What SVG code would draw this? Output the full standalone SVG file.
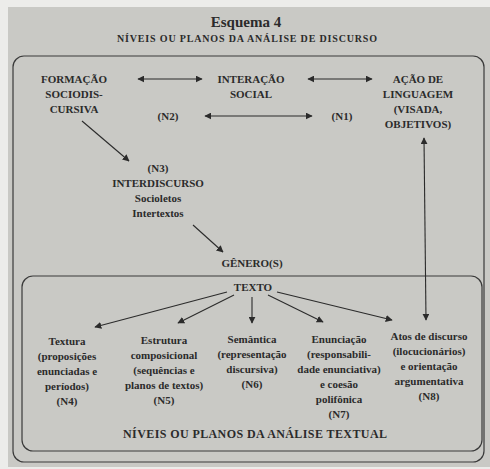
<svg xmlns="http://www.w3.org/2000/svg" width="490" height="469" viewBox="0 0 490 469">
<defs>
<marker id="ah" viewBox="0 0 10 10" refX="9" refY="5" markerWidth="7" markerHeight="7" markerUnits="userSpaceOnUse" orient="auto-start-reverse">
<path d="M0,0 L10,5 L0,10 z" fill="#2b2b2b"/>
</marker>
<style>
.t{font-family:"Liberation Serif","Times New Roman",serif;font-weight:bold;font-size:11px;fill:#2b2b2b;text-anchor:middle}
.c line{stroke:#2b2b2b;stroke-width:1.1}
.frame{fill:none;stroke:#3a3a3a;stroke-width:1.2}
</style>
</defs>
<rect width="490" height="469" fill="#ececea"/>
<rect x="8" y="7" width="482" height="460" fill="#c9c9c5"/>
<rect class="frame" x="13" y="56" width="471" height="406" rx="11"/>
<rect class="frame" x="22" y="276" width="460" height="175" rx="11"/>
<text x="246" y="27" style="font-family:'Liberation Serif',serif;font-size:15px;font-weight:600;fill:#2b2b2b;text-anchor:middle">Esquema 4</text>
<text x="247" y="42" class="t" textLength="260" style="font-size:10px">NÍVEIS OU PLANOS DA ANÁLISE DE DISCURSO</text>
<g class="c">
<line x1="138" y1="79" x2="202" y2="79" marker-start="url(#ah)" marker-end="url(#ah)"/>
<line x1="308" y1="79" x2="372" y2="79" marker-start="url(#ah)" marker-end="url(#ah)"/>
<line x1="205" y1="116" x2="312" y2="116" marker-start="url(#ah)" marker-end="url(#ah)"/>
<line x1="82" y1="121" x2="129" y2="161" marker-end="url(#ah)"/>
<line x1="424" y1="138" x2="426" y2="320" marker-start="url(#ah)" marker-end="url(#ah)"/>
<line x1="193" y1="225" x2="223" y2="252" marker-end="url(#ah)"/>
<line x1="227" y1="292" x2="95" y2="327" marker-end="url(#ah)"/>
<line x1="234" y1="295" x2="178" y2="323" marker-end="url(#ah)"/>
<line x1="252" y1="297" x2="252" y2="323" marker-end="url(#ah)"/>
<line x1="268" y1="295" x2="323" y2="322" marker-end="url(#ah)"/>
<line x1="277" y1="292" x2="392" y2="320" marker-end="url(#ah)"/>
</g>
<g id="formacao"><text class="t" x="74" y="83">FORMAÇÃO</text><text class="t" x="74" y="98">SOCIODIS-</text><text class="t" x="74" y="113">CURSIVA</text></g>
<g id="interacao"><text class="t" x="251" y="83">INTERAÇÃO</text><text class="t" x="251" y="98">SOCIAL</text></g>
<g id="acao"><text class="t" x="418" y="83">AÇÃO DE</text><text class="t" x="418" y="98">LINGUAGEM</text><text class="t" x="418" y="113">(VISADA,</text><text class="t" x="418" y="128">OBJETIVOS)</text></g>
<g id="n2"><text class="t" x="168" y="120">(N2)</text></g>
<g id="n1"><text class="t" x="342" y="120">(N1)</text></g>
<g id="interdiscurso"><text class="t" x="158" y="172">(N3)</text><text class="t" x="158" y="187">INTERDISCURSO</text><text class="t" x="158" y="202">Socioletos</text><text class="t" x="158" y="217">Intertextos</text></g>
<g id="genero"><text class="t" x="252" y="267">GÊNERO(S)</text></g>
<g id="texto"><text class="t" x="253" y="291">TEXTO</text></g>
<g id="textura"><text class="t" x="67" y="345">Textura</text><text class="t" x="67" y="360">(proposições</text><text class="t" x="67" y="375">enunciadas e</text><text class="t" x="67" y="390">períodos)</text><text class="t" x="67" y="405">(N4)</text></g>
<g id="estrutura"><text class="t" x="164" y="344">Estrutura</text><text class="t" x="164" y="359">composicional</text><text class="t" x="164" y="374">(sequências e</text><text class="t" x="164" y="389">planos de textos)</text><text class="t" x="164" y="404">(N5)</text></g>
<g id="semantica"><text class="t" x="252" y="343">Semântica</text><text class="t" x="252" y="358">(representação</text><text class="t" x="252" y="373">discursiva)</text><text class="t" x="252" y="388">(N6)</text></g>
<g id="enunciacao"><text class="t" x="339" y="343">Enunciação</text><text class="t" x="339" y="358">(responsabili-</text><text class="t" x="339" y="373">dade enunciativa)</text><text class="t" x="339" y="388">e coesão</text><text class="t" x="339" y="403">polifônica</text><text class="t" x="339" y="418">(N7)</text></g>
<g id="atos"><text class="t" x="429" y="340">Atos de discurso</text><text class="t" x="429" y="355">(ilocucionários)</text><text class="t" x="429" y="370">e orientação</text><text class="t" x="429" y="385">argumentativa</text><text class="t" x="429" y="400">(N8)</text></g>
<text class="t" x="255" y="438" textLength="264" style="font-size:12px">NÍVEIS OU PLANOS DA ANÁLISE TEXTUAL</text>
</svg>
